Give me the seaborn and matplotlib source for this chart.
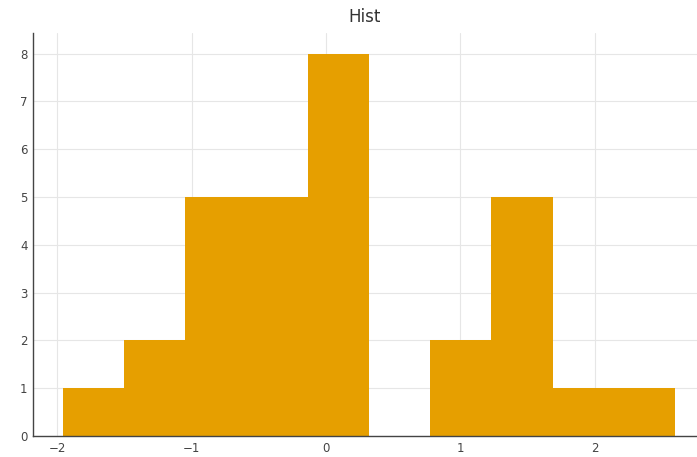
import seaborn as sns
import numpy as np
import matplotlib.pyplot as plt

# histogram: bin edges and counts
bin_edges = [-1.96, -1.504, -1.048, -0.593, -0.137, 0.319, 0.775, 1.231, 1.686, 2.142, 2.598]
counts = [1, 2, 5, 5, 8, 0, 2, 5, 1, 1]
x_ticks = [-2, -1, 0, 1, 2]
y_ticks = [0, 1, 2, 3, 4, 5, 6, 7, 8]

sns.set_style("white")
plt.rcParams['font.family'] = ['DejaVu Sans']

centers = (np.array(bin_edges[:-1]) + np.array(bin_edges[1:])) / 2

fig = plt.figure(figsize=(6.97, 4.57), dpi=100)
ax = fig.add_axes([33 / 697, 21 / 457, 664 / 697, 403 / 457])

sns.histplot(x=centers, weights=counts, bins=bin_edges, color="#E69F00",
             alpha=1, edgecolor="none", linewidth=0, ax=ax, zorder=2)

ax.set_xlim(-2.18, 2.76)
ax.set_ylim(0, 8.43)
ax.set_xticks(x_ticks)
ax.set_yticks(y_ticks)
ax.set_xticklabels([str(t).replace('-', '\u2212') for t in x_ticks])
ax.grid(True, color="#e6e6e6", linewidth=0.8, zorder=0)
ax.set_axisbelow(True)
ax.set_xlabel("")
ax.set_ylabel("")
ax.set_title("Hist", fontsize=12, color="#333333", pad=8)

for s in ["top", "right"]:
    ax.spines[s].set_visible(False)
for s in ["left", "bottom"]:
    ax.spines[s].set_color("#444444")
    ax.spines[s].set_linewidth(1.0)
ax.tick_params(direction="in", length=3, width=0.8, color="#444444",
               labelsize=8.5, labelcolor="#444444", pad=4)

fig.savefig("out.png", dpi=100)
